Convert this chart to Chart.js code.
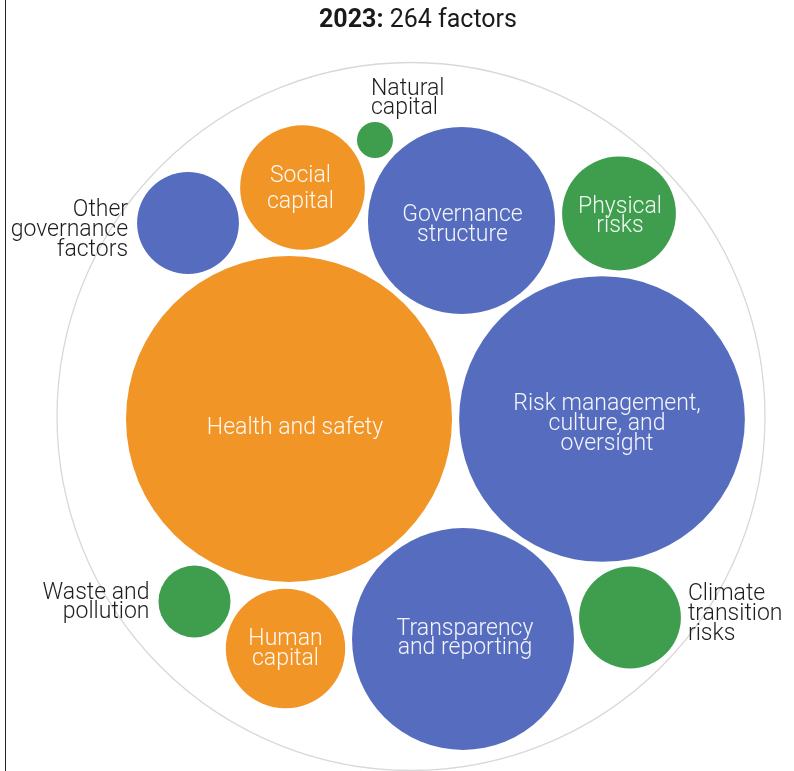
<!DOCTYPE html>
<html><head><meta charset="utf-8">
<script src="https://cdn.jsdelivr.net/npm/chart.js@4.4.1/dist/chart.umd.min.js"></script>
<style>
html,body{margin:0;padding:0;background:#fff;}
#wrap{position:relative;width:794px;height:771px;overflow:hidden;}
#rule{position:absolute;left:5px;top:0;width:1px;height:771px;background:#222;}
#title{position:absolute;left:0;top:4px;width:836px;text-align:center;font-family:Roboto,sans-serif;font-size:25px;font-weight:400;color:#1a1a1a;white-space:nowrap}
#title b{font-weight:700}
canvas{position:absolute;left:0;top:0}
</style></head><body>
<div id="wrap"><canvas id="c" width="794" height="771"></canvas><div id="rule"></div><div id="title"><b>2023:</b> 264 factors</div></div>
<script>
// ---- data ----
const categories = ['Health and safety','Risk management, culture, and oversight','Transparency and reporting','Governance structure','Social capital','Human capital','Physical risks','Other governance factors','Climate transition risks','Waste and pollution','Natural capital'];
const factorCounts = [82, 63, 38, 27, 12, 11, 10, 8, 8, 4, 1];
const pillar = ['social','governance','governance','governance','social','social','environment','governance','environment','environment','environment'];
// packed-layout position of each bubble (offset from pack centre)
const packX = [-122, 191, 52, 50.5, -108.5, -125.5, 208, -223, 219, -216.5, -36];
const packY = [-2.5, -2.5, -222.5, 196, 229, -232, 203, 193.5, -201, -185, 276.5];
const labelLines = [['Health and safety'],['Risk management,','culture, and','oversight'],['Transparency','and reporting'],['Governance','structure'],['Social','capital'],['Human','capital'],['Physical','risks'],['Other','governance','factors'],['Climate','transition','risks'],['Waste and','pollution'],['Natural','capital']];

// ---- styles ----
const colors = {social:'#F09526', governance:'#566DBF', environment:'#3E9E4E'};
const UNIT_R = 18;      // bubble radius of one factor
const ENCLOSE_R = 354;  // enclosing circle radius
const labelStyle = [
  {pos:'in', dx:6, dy:9, lh:20},
  {pos:'in', dx:5, dy:5, lh:20},
  {pos:'in', dx:2, dy:0, lh:19},
  {pos:'in', dx:1, dy:5, lh:20},
  {pos:'in', dx:-2, dy:1.5, lh:26},
  {pos:'in', dx:0, dy:0.5, lh:19.5},
  {pos:'in', dx:1, dy:3, lh:19},
  {pos:'left', gap:9, dy:7.5, lh:20},
  {pos:'right', gap:7, dy:-3, lh:20},
  {pos:'left', gap:9, dy:1.5, lh:19},
  {pos:'top', dx:-4, dy:-41, lh:19}
];
const FONT = '300 23px Roboto, "Open Sans", sans-serif';

const points = factorCounts.map((v,i)=>({x:packX[i], y:packY[i], r:UNIT_R*Math.sqrt(v), v}));

const enclosePlugin = {
  id:'enclose',
  beforeDatasetsDraw(chart){
    const {ctx, scales:{x,y}} = chart;
    ctx.save();
    ctx.beginPath();
    ctx.arc(x.getPixelForValue(0), y.getPixelForValue(0), ENCLOSE_R, 0, Math.PI*2);
    ctx.strokeStyle = '#d8d8d8';
    ctx.lineWidth = 1.3;
    ctx.stroke();
    ctx.restore();
  }
};
const labelPlugin = {
  id:'labels',
  afterDatasetsDraw(chart){
    const ctx = chart.ctx;
    const meta = chart.getDatasetMeta(0);
    ctx.save();
    ctx.font = FONT;
    ctx.textBaseline = 'middle';
    meta.data.forEach((el,i)=>{
      const s = labelStyle[i], lines = labelLines[i], r = el.options.radius;
      const n = lines.length;
      let x, yc = el.y + s.dy;
      if (s.pos==='in'){ x = el.x + s.dx; ctx.textAlign='center'; ctx.fillStyle='rgba(255,255,255,0.93)'; }
      else if (s.pos==='left'){ x = el.x - r - s.gap; ctx.textAlign='right'; ctx.fillStyle='#1e1e1e'; }
      else if (s.pos==='right'){ x = el.x + r + s.gap; ctx.textAlign='left'; ctx.fillStyle='#1e1e1e'; }
      else { x = el.x + s.dx; ctx.textAlign='left'; ctx.fillStyle='#1e1e1e'; }
      lines.forEach((t,k)=>{
        ctx.fillText(t, x, yc - (n-1)*s.lh/2 + k*s.lh);
      });
    });
    ctx.restore();
  }
};

new Chart(document.getElementById('c'), {
  type:'bubble',
  data:{
    labels: categories,
    datasets:[{
      label:'Factors',
      data: points,
      backgroundColor: pillar.map(p=>colors[p]),
      borderWidth:0,
      hoverBorderWidth:0,
      hoverRadius:0,
      clip:false
    }]
  },
  options:{
    responsive:false,
    animation:false,
    events:[],
    layout:{padding:0, autoPadding:false},
    plugins:{legend:{display:false}, tooltip:{enabled:false}, title:{display:false}},
    scales:{
      x:{type:'linear', display:false, min:-411, max:383},
      y:{type:'linear', display:false, min:-354.5, max:416.5}
    }
  },
  plugins:[enclosePlugin, labelPlugin]
});
</script>
</body></html>
